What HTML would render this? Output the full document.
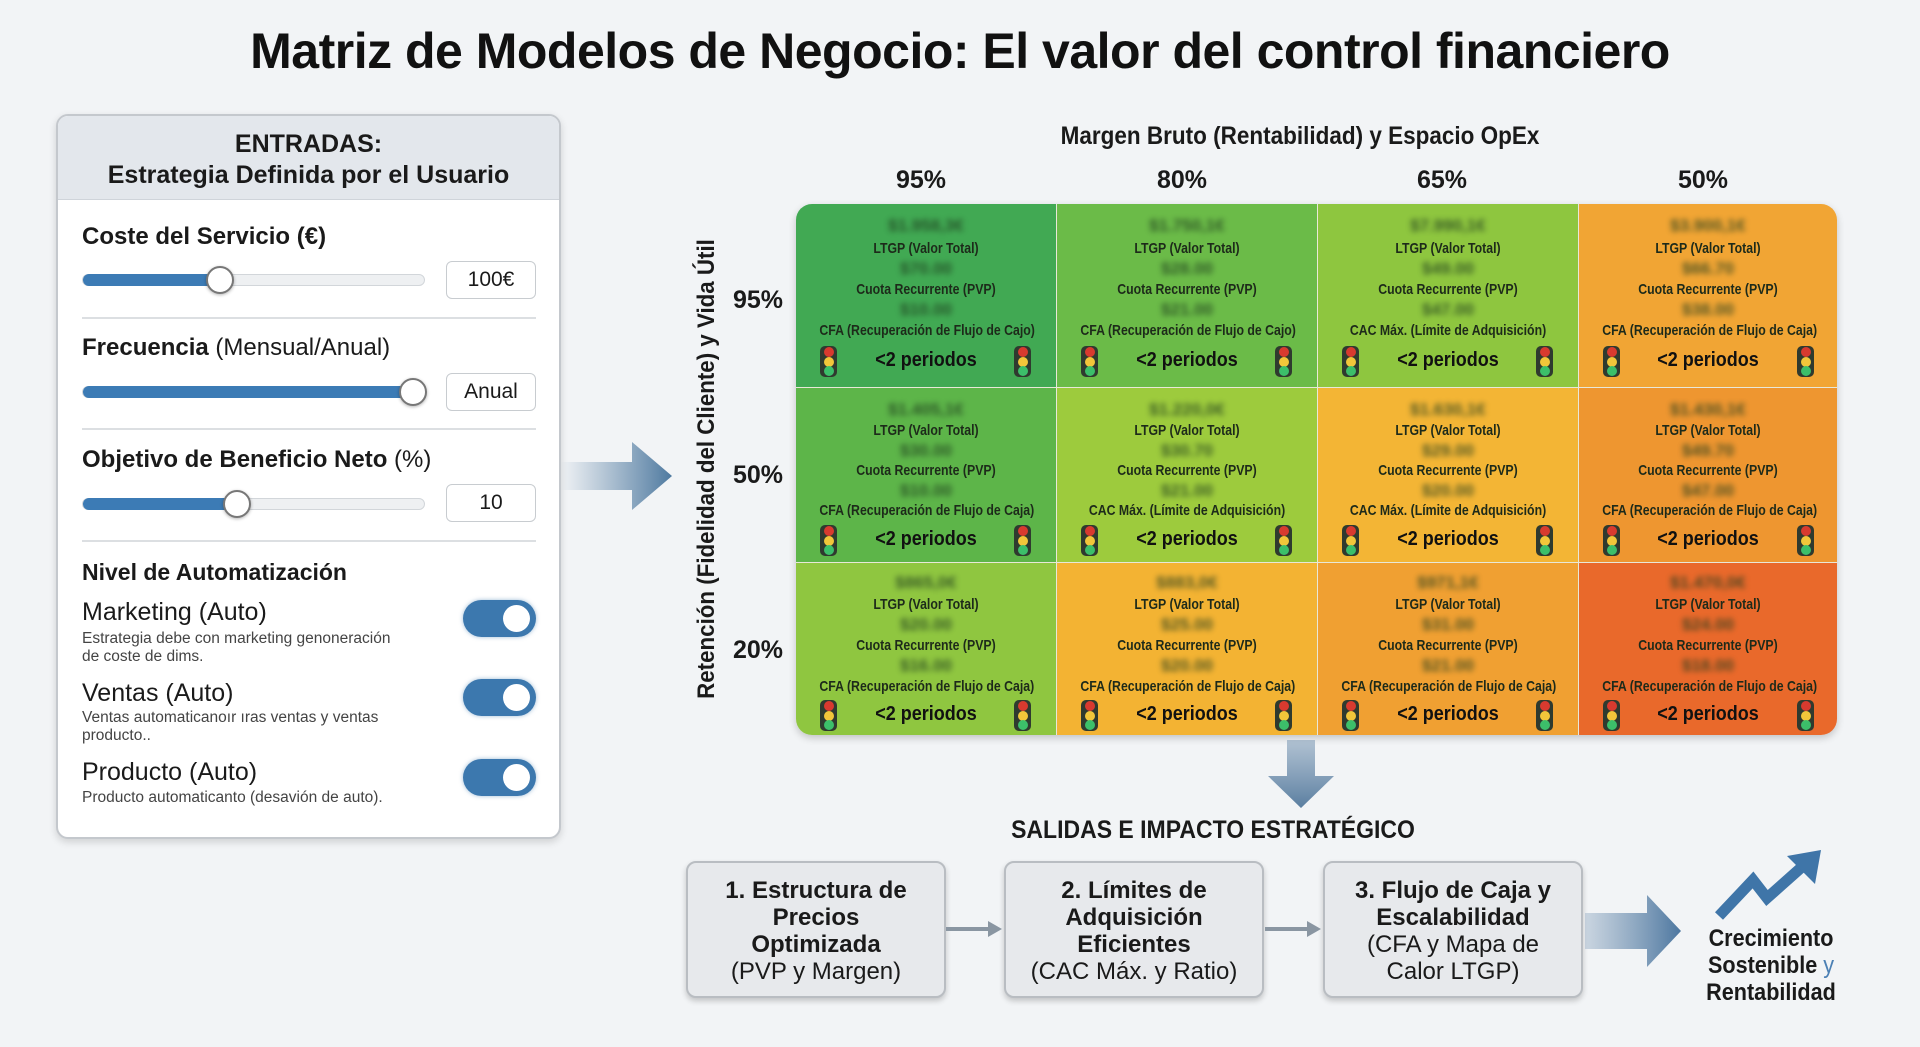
<!DOCTYPE html>
<html><head><meta charset="utf-8">
<style>
*{box-sizing:border-box;margin:0;padding:0}
body{width:1920px;height:1047px;background:#f2f4f6;font-family:"Liberation Sans",sans-serif;color:#1a1a1a;position:relative;overflow:hidden}
.a{position:absolute}
.title{left:0;width:1920px;top:22px;text-align:center;font-size:50px;font-weight:bold;color:#111;letter-spacing:-0.5px;transform:scaleX(1.0)}
.panel{left:56px;top:114px;width:505px;height:725px;background:#fff;border:2px solid #c4c8cd;border-radius:12px;box-shadow:0 3px 8px rgba(0,0,0,.15);overflow:hidden}
.phead{left:0;top:0;width:100%;height:84px;background:#e3e7ec;border-bottom:1px solid #cfd4da;text-align:center;font-weight:bold;font-size:25px;line-height:31px;padding-top:13px}
.lbl{font-size:24px;font-weight:bold;left:24px}
.track{left:24px;width:343px;height:12px;border-radius:6px;background:#eef0f2;border:1px solid #d2d6da}
.fill{position:absolute;left:0;top:-1px;height:12px;border-radius:6px;background:#3c7bb5}
.knob{width:28px;height:28px;border-radius:50%;background:#fff;border:2px solid #777;box-shadow:0 1px 3px rgba(0,0,0,.3)}
.box{left:388px;width:90px;height:38px;border:1px solid #c8ccd0;border-radius:6px;text-align:center;font-size:21px;line-height:36px}
.sep{left:24px;width:454px;height:2px;background:#dcdfe2}
.tog{left:405px;width:73px;height:37px;border-radius:19px;background:#3c78ae;box-shadow:0 0 4px rgba(60,120,174,.5)}
.tog::after{content:"";position:absolute;right:6px;top:5px;width:27px;height:27px;border-radius:50%;background:#fff}
.tn{left:24px;font-size:25px}
.td{left:24px;font-size:15.5px;color:#444;line-height:18px}
.cell{position:absolute;text-align:center;font-weight:bold;font-size:15px;color:#1d2a1a}
.cell .v{position:absolute;left:0;width:100%;filter:blur(3px);color:#1d3a1d;font-size:17px;opacity:.75}
.cell .t{position:absolute;left:0;width:100%;white-space:nowrap;transform:scaleX(.82);font-size:15px}
.cell .p{position:absolute;left:0;width:100%;font-size:20px;font-weight:bold;color:#111;transform:scaleX(.9)}
.tl{position:absolute;width:17px;height:31px;background:#2f3a2f;border-radius:5px}
.tl i{position:absolute;left:3.5px;width:10px;height:10px;border-radius:50%}
.tl i:nth-child(1){top:1px;background:#d83a2f}.tl i:nth-child(2){top:10.5px;background:#f2c63a}.tl i:nth-child(3){top:20px;background:#3cbf6a}
.ob{top:861px;height:137px;width:260px;background:#e7e9ec;border:2px solid #b9bdc2;border-radius:10px;box-shadow:0 3px 6px rgba(0,0,0,.2);text-align:center;font-size:24px;line-height:27px;padding-top:14px;color:#1a1a1a}
.ob b{display:block;white-space:nowrap}
</style></head><body>

<div class="a title">Matriz de Modelos de Negocio: El valor del control financiero</div>

<div class="a panel">
  <div class="a phead">ENTRADAS:<br>Estrategia Definida por el Usuario</div>
  <div class="a lbl" style="top:107px">Coste del Servicio (€)</div>
  <div class="a track" style="top:158px"><div class="fill" style="width:137px"></div></div>
  <div class="a knob" style="left:148px;top:150px"></div>
  <div class="a box" style="top:145px">100€</div>
  <div class="a sep" style="top:201px"></div>

  <div class="a lbl" style="top:218px">Frecuencia <span style="font-weight:normal">(Mensual/Anual)</span></div>
  <div class="a track" style="top:270px"><div class="fill" style="width:330px"></div></div>
  <div class="a knob" style="left:341px;top:262px"></div>
  <div class="a box" style="top:257px">Anual</div>
  <div class="a sep" style="top:312px"></div>

  <div class="a lbl" style="top:330px">Objetivo de Beneficio Neto <span style="font-weight:normal">(%)</span></div>
  <div class="a track" style="top:382px"><div class="fill" style="width:155px"></div></div>
  <div class="a knob" style="left:165px;top:374px"></div>
  <div class="a box" style="top:368px">10</div>
  <div class="a sep" style="top:424px"></div>

  <div class="a lbl" style="top:443px;font-size:23px">Nivel de Automatización</div>
  <div class="a tn" style="top:482px">Marketing (Auto)</div>
  <div class="a td" style="top:514px">Estrategia debe con marketing genoneración<br>de coste de dims.</div>
  <div class="a tog" style="top:484px"></div>
  <div class="a tn" style="top:563px">Ventas (Auto)</div>
  <div class="a td" style="top:593px">Ventas automaticanoır ıras ventas y ventas<br>producto..</div>
  <div class="a tog" style="top:563px"></div>
  <div class="a tn" style="top:642px">Producto (Auto)</div>
  <div class="a td" style="top:673px">Producto automaticanto (desavión de auto).</div>
  <div class="a tog" style="top:643px"></div>
</div>

<svg class="a" style="left:560px;top:440px" width="120" height="72">
 <defs><linearGradient id="g1" x1="0" x2="1"><stop offset="0" stop-color="#5b82a6" stop-opacity="0"/><stop offset="1" stop-color="#4f7aa0"/></linearGradient></defs>
 <path d="M0 22 H72 V2 L112 36 L72 70 V50 H0 Z" fill="url(#g1)"/>
</svg>

<div class="a" style="left:1000px;width:600px;top:122px;text-align:center;font-size:25px;font-weight:bold;transform:scaleX(.9)">Margen Bruto (Rentabilidad) y Espacio OpEx</div>
<div class="a" style="left:871px;width:100px;top:166px;text-align:center;font-size:25px;font-weight:bold">95%</div>
<div class="a" style="left:1132px;width:100px;top:166px;text-align:center;font-size:25px;font-weight:bold">80%</div>
<div class="a" style="left:1392px;width:100px;top:166px;text-align:center;font-size:25px;font-weight:bold">65%</div>
<div class="a" style="left:1653px;width:100px;top:166px;text-align:center;font-size:25px;font-weight:bold">50%</div>

<div class="a" style="left:733px;top:286px;font-size:25px;font-weight:bold">95%</div>
<div class="a" style="left:733px;top:461px;font-size:25px;font-weight:bold">50%</div>
<div class="a" style="left:733px;top:636px;font-size:25px;font-weight:bold">20%</div>
<div class="a" style="left:707px;top:469px;transform:translate(-50%,-50%) rotate(-90deg) scaleX(.93);white-space:nowrap;font-size:24px;font-weight:bold">Retención (Fidelidad del Cliente) y Vida Útil</div>

<div class="a" style="left:796px;top:204px;width:1041px;height:531px;border-radius:16px;overflow:hidden;box-shadow:0 3px 8px rgba(0,0,0,.2)">
<div class="cell" style="left:0;top:0;width:260px;height:183px;background:#41a953"><div class="v" style="top:12px">$1.958,3€</div><div class="t" style="top:36px">LTGP (Valor Total)</div><div class="v" style="top:55px">$70.00</div><div class="t" style="top:77px">Cuota Recurrente (PVP)</div><div class="v" style="top:96px">$10.00</div><div class="t" style="top:118px">CFA (Recuperación de Flujo de Cajo)</div><div class="p" style="top:145px">&lt;2 periodos</div><div class="tl" style="left:24px;top:142px"><i></i><i></i><i></i></div><div class="tl" style="left:218px;top:142px"><i></i><i></i><i></i></div></div>
<div class="cell" style="left:261px;top:0;width:260px;height:183px;background:#6bbb48"><div class="v" style="top:12px">$1.750,1€</div><div class="t" style="top:36px">LTGP (Valor Total)</div><div class="v" style="top:55px">$28.00</div><div class="t" style="top:77px">Cuota Recurrente (PVP)</div><div class="v" style="top:96px">$21.00</div><div class="t" style="top:118px">CFA (Recuperación de Flujo de Cajo)</div><div class="p" style="top:145px">&lt;2 periodos</div><div class="tl" style="left:24px;top:142px"><i></i><i></i><i></i></div><div class="tl" style="left:218px;top:142px"><i></i><i></i><i></i></div></div>
<div class="cell" style="left:522px;top:0;width:260px;height:183px;background:#8ec63f"><div class="v" style="top:12px">$7.990,1€</div><div class="t" style="top:36px">LTGP (Valor Total)</div><div class="v" style="top:55px">$49.00</div><div class="t" style="top:77px">Cuota Recurrente (PVP)</div><div class="v" style="top:96px">$47.00</div><div class="t" style="top:118px">CAC Máx. (Límite de Adquisición)</div><div class="p" style="top:145px">&lt;2 periodos</div><div class="tl" style="left:24px;top:142px"><i></i><i></i><i></i></div><div class="tl" style="left:218px;top:142px"><i></i><i></i><i></i></div></div>
<div class="cell" style="left:783px;top:0;width:258px;height:183px;background:#f1a534"><div class="v" style="top:12px">$3.900,1€</div><div class="t" style="top:36px">LTGP (Valor Total)</div><div class="v" style="top:55px">$66.70</div><div class="t" style="top:77px">Cuota Recurrente (PVP)</div><div class="v" style="top:96px">$38.00</div><div class="t" style="top:118px">CFA (Recuperación de Flujo de Caja)</div><div class="p" style="top:145px">&lt;2 periodos</div><div class="tl" style="left:24px;top:142px"><i></i><i></i><i></i></div><div class="tl" style="left:218px;top:142px"><i></i><i></i><i></i></div></div>

<div class="cell" style="left:0;top:184px;width:260px;height:174px;background:#5db549"><div class="v" style="top:12px">$1.405,1€</div><div class="t" style="top:34px">LTGP (Valor Total)</div><div class="v" style="top:53px">$30.00</div><div class="t" style="top:74px">Cuota Recurrente (PVP)</div><div class="v" style="top:93px">$10.00</div><div class="t" style="top:114px">CFA (Recuperación de Flujo de Caja)</div><div class="p" style="top:140px">&lt;2 periodos</div><div class="tl" style="left:24px;top:137px"><i></i><i></i><i></i></div><div class="tl" style="left:218px;top:137px"><i></i><i></i><i></i></div></div>
<div class="cell" style="left:261px;top:184px;width:260px;height:174px;background:#9dcb3d"><div class="v" style="top:12px">$1.220,0€</div><div class="t" style="top:34px">LTGP (Valor Total)</div><div class="v" style="top:53px">$30.70</div><div class="t" style="top:74px">Cuota Recurrente (PVP)</div><div class="v" style="top:93px">$21.00</div><div class="t" style="top:114px">CAC Máx. (Límite de Adquisición)</div><div class="p" style="top:140px">&lt;2 periodos</div><div class="tl" style="left:24px;top:137px"><i></i><i></i><i></i></div><div class="tl" style="left:218px;top:137px"><i></i><i></i><i></i></div></div>
<div class="cell" style="left:522px;top:184px;width:260px;height:174px;background:#f3b535"><div class="v" style="top:12px">$1.630,1€</div><div class="t" style="top:34px">LTGP (Valor Total)</div><div class="v" style="top:53px">$29.00</div><div class="t" style="top:74px">Cuota Recurrente (PVP)</div><div class="v" style="top:93px">$20.00</div><div class="t" style="top:114px">CAC Máx. (Límite de Adquisición)</div><div class="p" style="top:140px">&lt;2 periodos</div><div class="tl" style="left:24px;top:137px"><i></i><i></i><i></i></div><div class="tl" style="left:218px;top:137px"><i></i><i></i><i></i></div></div>
<div class="cell" style="left:783px;top:184px;width:258px;height:174px;background:#ee9630"><div class="v" style="top:12px">$1.430,1€</div><div class="t" style="top:34px">LTGP (Valor Total)</div><div class="v" style="top:53px">$49.70</div><div class="t" style="top:74px">Cuota Recurrente (PVP)</div><div class="v" style="top:93px">$47.00</div><div class="t" style="top:114px">CFA (Recuperación de Flujo de Caja)</div><div class="p" style="top:140px">&lt;2 periodos</div><div class="tl" style="left:24px;top:137px"><i></i><i></i><i></i></div><div class="tl" style="left:218px;top:137px"><i></i><i></i><i></i></div></div>

<div class="cell" style="left:0;top:359px;width:260px;height:172px;background:#8fc640"><div class="v" style="top:10px">$865,0€</div><div class="t" style="top:33px">LTGP (Valor Total)</div><div class="v" style="top:52px">$20.00</div><div class="t" style="top:74px">Cuota Recurrente (PVP)</div><div class="v" style="top:93px">$16.00</div><div class="t" style="top:115px">CFA (Recuperación de Flujo de Caja)</div><div class="p" style="top:140px">&lt;2 periodos</div><div class="tl" style="left:24px;top:137px"><i></i><i></i><i></i></div><div class="tl" style="left:218px;top:137px"><i></i><i></i><i></i></div></div>
<div class="cell" style="left:261px;top:359px;width:260px;height:172px;background:#f3b333"><div class="v" style="top:10px">$883,0€</div><div class="t" style="top:33px">LTGP (Valor Total)</div><div class="v" style="top:52px">$25.00</div><div class="t" style="top:74px">Cuota Recurrente (PVP)</div><div class="v" style="top:93px">$20.00</div><div class="t" style="top:115px">CFA (Recuperación de Flujo de Caja)</div><div class="p" style="top:140px">&lt;2 periodos</div><div class="tl" style="left:24px;top:137px"><i></i><i></i><i></i></div><div class="tl" style="left:218px;top:137px"><i></i><i></i><i></i></div></div>
<div class="cell" style="left:522px;top:359px;width:260px;height:172px;background:#f0a032"><div class="v" style="top:10px">$971,1€</div><div class="t" style="top:33px">LTGP (Valor Total)</div><div class="v" style="top:52px">$31.00</div><div class="t" style="top:74px">Cuota Recurrente (PVP)</div><div class="v" style="top:93px">$21.00</div><div class="t" style="top:115px">CFA (Recuperación de Flujo de Caja)</div><div class="p" style="top:140px">&lt;2 periodos</div><div class="tl" style="left:24px;top:137px"><i></i><i></i><i></i></div><div class="tl" style="left:218px;top:137px"><i></i><i></i><i></i></div></div>
<div class="cell" style="left:783px;top:359px;width:258px;height:172px;background:#e9692b"><div class="v" style="top:10px">$1.470,0€</div><div class="t" style="top:33px">LTGP (Valor Total)</div><div class="v" style="top:52px">$24.00</div><div class="t" style="top:74px">Cuota Recurrente (PVP)</div><div class="v" style="top:93px">$18.00</div><div class="t" style="top:115px">CFA (Recuperación de Flujo de Caja)</div><div class="p" style="top:140px">&lt;2 periodos</div><div class="tl" style="left:24px;top:137px"><i></i><i></i><i></i></div><div class="tl" style="left:218px;top:137px"><i></i><i></i><i></i></div></div>
<div class="a" style="left:260px;top:0;width:1px;height:531px;background:#e8e8d8"></div>
<div class="a" style="left:521px;top:0;width:1px;height:531px;background:#e8e8d8"></div>
<div class="a" style="left:782px;top:0;width:1px;height:531px;background:#e8e8d8"></div>
<div class="a" style="left:0;top:183px;width:1041px;height:1px;background:#e8e8d8"></div>
<div class="a" style="left:0;top:358px;width:1041px;height:1px;background:#e8e8d8"></div>
</div>

<svg class="a" style="left:1266px;top:740px" width="70" height="70">
 <defs><linearGradient id="g2" x1="0" y1="0" x2="0" y2="1"><stop offset="0" stop-color="#6f8fae" stop-opacity=".5"/><stop offset="1" stop-color="#5a7ea0"/></linearGradient></defs>
 <path d="M21 0 H49 V36 H68 L35 68 L2 36 H21 Z" fill="url(#g2)"/>
</svg>

<div class="a" style="left:913px;width:600px;top:816px;text-align:center;font-size:25px;font-weight:bold;transform:scaleX(.92)">SALIDAS E IMPACTO ESTRATÉGICO</div>

<div class="a ob" style="left:686px"><b>1. Estructura de</b><b>Precios</b><b>Optimizada</b>(PVP y Margen)</div>
<div class="a ob" style="left:1004px"><b>2. Límites de</b><b>Adquisición</b><b>Eficientes</b>(CAC Máx. y Ratio)</div>
<div class="a ob" style="left:1323px"><b>3. Flujo de Caja y</b><b>Escalabilidad</b>(CFA y Mapa de<br>Calor LTGP)</div>

<svg class="a" style="left:946px;top:918px" width="60" height="24"><path d="M0 11 H44" stroke="#8a96a2" stroke-width="4"/><path d="M42 3 L56 11 L42 19 Z" fill="#8a96a2"/></svg>
<svg class="a" style="left:1265px;top:918px" width="60" height="24"><path d="M0 11 H44" stroke="#8a96a2" stroke-width="4"/><path d="M42 3 L56 11 L42 19 Z" fill="#8a96a2"/></svg>

<svg class="a" style="left:1585px;top:895px" width="100" height="72">
 <defs><linearGradient id="g3" x1="0" x2="1"><stop offset="0" stop-color="#6d8eaf" stop-opacity=".3"/><stop offset="1" stop-color="#4d77a0"/></linearGradient></defs>
 <path d="M0 18 H62 V0 L96 36 L62 72 V54 H0 Z" fill="url(#g3)"/>
</svg>

<svg class="a" style="left:1715px;top:848px" width="115" height="75">
 <path d="M4 68 L38 32 L52 50 L88 18" stroke="#3f75a8" stroke-width="11" fill="none" stroke-linejoin="miter"/>
 <path d="M72 8 L106 2 L100 36 Z" fill="#3f75a8"/>
</svg>

<div class="a" style="left:1671px;width:200px;top:925px;text-align:center;font-size:24px;line-height:27px;font-weight:bold;transform:scaleX(.9)">Crecimiento<br>Sostenible <span style="color:#4c80b4;font-weight:normal">y</span><br>Rentabilidad</div>

</body></html>
